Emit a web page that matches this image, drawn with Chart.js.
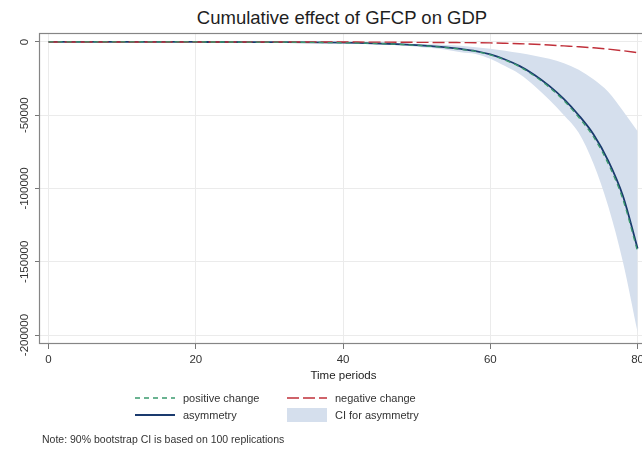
<!DOCTYPE html>
<html>
<head>
<meta charset="utf-8">
<script src="https://cdn.jsdelivr.net/npm/chart.js@4.4.1/dist/chart.umd.min.js"></script>
<style>
  html, body { margin: 0; padding: 0; background: #fff; overflow: hidden; }
  body { width: 642px; height: 457px; position: relative; font-family: "Liberation Sans", Arial, sans-serif; color: #222; }
  #chart { position: absolute; left: 0; top: 0; }
  #title { position: absolute; left: 39px; width: 606px; top: 7px; text-align: center; font-size: 18.5px; color: #1e1e1e; }
  #legend { position: absolute; left: 135px; top: 390px; display: grid; grid-template-columns: 152px 160px; row-gap: 2px; font-size: 11px; color: #333; }
  .item { display: flex; align-items: center; height: 15px; }
  .item svg { margin-right: 8px; }
  #note { position: absolute; left: 42px; top: 433px; font-size: 10.5px; color: #333; }
</style>
</head>
<body>
<div id="title">Cumulative effect of GFCP on GDP</div>
<canvas id="chart" width="648" height="457"></canvas>
<div id="legend"></div>
<div id="note">Note: 90% bootstrap CI is based on 100 replications</div>
<script>
const periods   = [0, 4, 8, 12, 16, 20, 24, 28, 32, 36, 40, 42, 44, 46, 48, 50, 52, 54, 56, 58, 60, 62, 64, 66, 68, 70, 72, 74, 76, 78, 80];
const positive  = [0, 0, 0, -5, -10, -20, -45, -85, -160, -300, -560, -750, -990, -1320, -1740, -2310, -3040, -3880, -5000, -6450, -8800, -12400, -17000, -23200, -30900, -40100, -51400, -64700, -83000, -107400, -143000];
const negative  = [0, 0, 0, 0, 0, 0, -5, -10, -20, -40, -70, -90, -120, -160, -210, -270, -330, -390, -450, -520, -650, -900, -1200, -1600, -2100, -2700, -3300, -4000, -4900, -6000, -7300];
const asymmetry = [0, 0, 0, -5, -10, -20, -40, -80, -150, -280, -520, -700, -930, -1250, -1650, -2200, -2900, -3700, -4800, -6200, -8500, -12000, -16500, -22500, -30000, -39000, -50000, -63000, -81000, -105000, -141000];
const ciUpper   = [0, 0, 0, 0, -5, -10, -20, -40, -80, -150, -350, -450, -600, -800, -1050, -1300, -1650, -2100, -2600, -3600, -4700, -6000, -7600, -9400, -11500, -14500, -19000, -25500, -34000, -47000, -61000];
const ciLower   = [0, 0, 0, -5, -15, -30, -60, -120, -230, -420, -750, -1000, -1350, -1800, -2400, -3200, -4200, -5400, -7000, -8200, -11500, -16500, -22000, -30000, -39500, -50000, -62000, -83000, -112000, -150000, -198000];
const xTicks = [0, 20, 40, 60, 80];
const yTicks = [0, -50000, -100000, -150000, -200000];

const navy = '#1a3a6e';
const green = '#3a9a6e';
const red = '#c0303a';
const band = '#d5dfed';

const pts = (vals) => periods.map((t, i) => ({ x: t, y: vals[i] }));

// gray frame round the plot region
const framePlugin = {
  id: 'frame',
  afterDatasetsDraw(chart) {
    const a = chart.chartArea;
    const g = chart.ctx;
    g.save();
    g.strokeStyle = '#858585';
    g.lineWidth = 1.2;
    g.strokeRect(a.left + 0.5, a.top + 0.5, a.width - 1, a.height - 1);
    g.restore();
  }
};

// datasets are drawn last-to-first, so the band goes at the end to sit underneath
const chart = new Chart(document.getElementById('chart'), {
  type: 'line',
  data: {
    datasets: [
      { label: 'positive change', data: pts(positive), borderColor: green, borderWidth: 1.3, borderDash: [5, 4], pointRadius: 0, fill: false },
      { label: 'negative change', data: pts(negative), borderColor: red, borderWidth: 1.4, borderDash: [12, 4], pointRadius: 0, fill: false },
      { label: 'asymmetry', data: pts(asymmetry), borderColor: navy, borderWidth: 1.8, pointRadius: 0, fill: false },
      { label: 'CI lower', data: pts(ciLower), borderWidth: 0, pointRadius: 0, backgroundColor: band, fill: '+1' },
      { label: 'CI for asymmetry', data: pts(ciUpper), borderWidth: 0, pointRadius: 0, backgroundColor: band, fill: false }
    ]
  },
  options: {
    responsive: false,
    animation: false,
    devicePixelRatio: 1,
    layout: { padding: { top: 33, bottom: 73, left: 0, right: 0 } },
    plugins: { legend: { display: false }, tooltip: { enabled: false } },
    elements: { line: { cubicInterpolationMode: 'monotone' } },
    scales: {
      x: {
        type: 'linear',
        min: -1.3,
        max: 81.4,
        afterBuildTicks: (s) => { s.ticks = xTicks.map(v => ({ value: v })); },
        afterFit: (s) => { s.height = 40; },
        ticks: { color: '#333', font: { family: 'Liberation Sans', size: 11.5 }, padding: 4 },
        grid: { color: '#ebebeb', tickLength: 5, tickColor: '#777' },
        border: { display: false },
        title: { display: true, text: 'Time periods', color: '#222', font: { family: 'Liberation Sans', size: 11.5 }, padding: { top: 0, bottom: 1 } }
      },
      y: {
        min: -206100,
        max: 6100,
        afterBuildTicks: (s) => { s.ticks = yTicks.map(v => ({ value: v })); },
        afterFit: (s) => { s.width = 39; },
        ticks: {
          color: '#333', font: { family: 'Liberation Sans', size: 11.5 },
          minRotation: 90, maxRotation: 90, crossAlign: 'center', padding: -10.5,
          callback: (v) => String(v)
        },
        grid: { color: '#ebebeb', tickLength: 4, tickColor: '#777' },
        border: { display: false }
      }
    }
  },
  plugins: [framePlugin]
});

// two-column legend under the plot, styled from the datasets
const legendOrder = ['positive change', 'negative change', 'asymmetry', 'CI for asymmetry'];
const legendEl = document.getElementById('legend');
legendOrder.forEach(name => {
  const ds = chart.data.datasets.find(d => d.label === name);
  let sym;
  if (name === 'CI for asymmetry') {
    sym = '<svg width="40" height="14"><rect x="0" y="0" width="40" height="14" fill="' + band + '"/></svg>';
  } else {
    const dash = ds.borderDash ? ds.borderDash.join(',') : 'none';
    sym = '<svg width="40" height="14"><line x1="0" y1="7" x2="40" y2="7" stroke="' + ds.borderColor +
      '" stroke-width="' + ds.borderWidth + '" stroke-dasharray="' + dash + '"/></svg>';
  }
  const div = document.createElement('div');
  div.className = 'item';
  div.innerHTML = sym + '<span>' + name + '</span>';
  legendEl.appendChild(div);
});
</script>
</body>
</html>
